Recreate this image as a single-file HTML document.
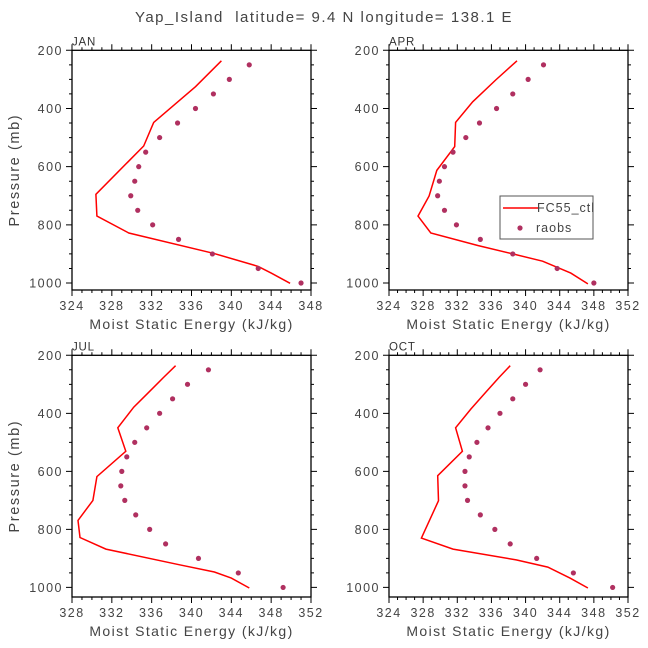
<!DOCTYPE html>
<html><head><meta charset="utf-8">
<style>
body{margin:0;background:#fff;}
svg{display:block;font-family:"Liberation Sans",sans-serif;}
text{white-space:pre;}
</style></head>
<body>
<svg id="chart" width="648" height="648" viewBox="0 0 648 648">
<text x="324" y="22" text-anchor="middle" font-size="15" letter-spacing="1.5" fill="#444">Yap_Island  latitude= 9.4 N longitude= 138.1 E</text>
</svg>
<script>
const obsLevels=[250,300,350,400,450,500,550,600,650,700,750,800,850,900,950,1000];
const janLineP=[236,325,448,529,695,770,828,898,943,966,1001];
const janLineX=[339.0,336.4,332.2,331.2,326.4,326.5,329.7,338.2,342.7,344.0,345.9];
const janObs=[341.8,339.8,338.2,336.4,334.6,332.8,331.4,330.7,330.3,329.9,330.6,332.1,334.7,338.1,342.7,347.0];
const aprLineP=[236,302,377,448,531,613,701,770,828,871,900,925,966,1003];
const aprLineX=[339.0,336.5,333.8,331.8,331.7,329.6,328.7,327.4,328.9,334.4,338.5,342.0,345.3,347.3];
const aprObs=[342.1,340.3,338.5,336.6,334.6,333.0,331.5,330.5,329.9,329.7,330.5,331.9,334.7,338.5,343.7,348.0];
const julLineP=[236,276,331,379,450,531,618,700,769,828,868,922,947,968,1002];
const julLineX=[338.4,337.2,335.6,334.2,332.6,333.4,330.5,330.1,328.6,328.8,331.4,338.8,342.3,344.0,345.8];
const julObs=[341.7,339.6,338.1,336.8,335.5,334.3,333.5,333.0,332.9,333.3,334.4,335.8,337.4,340.7,344.7,349.2];
const octLineP=[236,276,325,385,450,531,615,701,830,868,905,930,968,1002];
const octLineX=[338.2,336.9,335.4,333.6,331.8,332.6,329.7,329.8,327.8,331.5,338.9,342.6,345.2,347.3];
const octObs=[341.7,340.0,338.5,337.0,335.6,334.3,333.4,332.9,332.9,333.2,334.7,336.4,338.2,341.3,345.6,350.2];
const janTicks=[324,328,332,336,340,344,348];
const aprTicks=[324,328,332,336,340,344,348,352];
const julTicks=[328,332,336,340,344,348,352];
const octTicks=[324,328,332,336,340,344,348,352];
const pTicks=[200,400,600,800,1000];

const NS="http://www.w3.org/2000/svg";
const svg=document.getElementById('chart');
function mk(tag,attrs,parent){const e=document.createElementNS(NS,tag);for(const k in attrs)e.setAttribute(k,attrs[k]);(parent||svg).appendChild(e);return e;}

const panels=[
 {name:'jan',label:'JAN',x0:72,x1:311,y0:50.3,y1:290,xmin:324,xmax:348,pmax:1024,ticks:janTicks,lp:janLineP,lx:janLineX,obs:janObs,ylab:true},
 {name:'apr',label:'APR',x0:389,x1:628,y0:50.3,y1:290,xmin:324,xmax:352,pmax:1024,ticks:aprTicks,lp:aprLineP,lx:aprLineX,obs:aprObs,ylab:false,legend:true},
 {name:'jul',label:'JUL',x0:72,x1:311,y0:355.3,y1:597,xmin:328,xmax:352,pmax:1033,ticks:julTicks,lp:julLineP,lx:julLineX,obs:julObs,ylab:true},
 {name:'oct',label:'OCT',x0:389,x1:628,y0:355.3,y1:597,xmin:324,xmax:352,pmax:1033,ticks:octTicks,lp:octLineP,lx:octLineX,obs:octObs,ylab:false}
];
panels.forEach(P=>{
 const g=mk('g',{});
 
 
 const sx=v=>P.x0+(v-P.xmin)/(P.xmax-P.xmin)*(P.x1-P.x0);
 const sy=p=>P.y0+(p-200)/(P.pmax-200)*(P.y1-P.y0);
 const box=mk('rect',{x:P.x0,y:P.y0,width:P.x1-P.x0,height:P.y1-P.y0,fill:'none',stroke:'#000','stroke-width':1.3},g);
 
 
 const lab=mk('text',{x:P.x0,y:P.y0-5,'font-size':11.5,'letter-spacing':0.8,fill:'#333'},g);lab.textContent=P.label;
 
 
 let d='';
 for(let v=P.xmin;v<=P.xmax;v++){const x=sx(v);const L=((v-P.xmin)%4===0)?6:3;d+=`M${x},${P.y1}v${L}M${x},${P.y0}v${-L}`;}
 for(let p=200;p<=P.pmax;p+=50){const y=sy(p);const L=(p%200===0)?6:3;d+=`M${P.x0},${y}h${-L}M${P.x1},${y}h${L}`;}
 mk('path',{d:d,stroke:'#000','stroke-width':1,fill:'none'},g);
 P.ticks.forEach(v=>{const t=mk('text',{x:sx(v),y:P.y1+20,'text-anchor':'middle','font-size':12.5,'letter-spacing':1.5,fill:'#444'},g);t.textContent=v;
  
  });
 pTicks.forEach(p=>{const t=mk('text',{x:P.x0-9,y:sy(p)+4.5,'text-anchor':'end','font-size':12.5,'letter-spacing':1.5,fill:'#444'},g);t.textContent=p;
  
  });
 const xt=mk('text',{x:(P.x0+P.x1)/2,y:P.y1+39,'text-anchor':'middle','font-size':14,'letter-spacing':1.4,fill:'#444'},g);xt.textContent='Moist Static Energy (kJ/kg)';
 
 
 if(P.ylab){const yt=mk('text',{x:0,y:0,'text-anchor':'middle','font-size':14.5,'letter-spacing':1.6,fill:'#444',transform:`translate(19,${(P.y0+P.y1)/2}) rotate(-90)`},g);yt.textContent='Pressure (mb)';
  
  }
 const pts=P.lp.map((p,i)=>sx(P.lx[i]).toFixed(1)+','+sy(p).toFixed(1)).join(' ');
 const ln=mk('polyline',{points:pts,fill:'none',stroke:'#ff0000','stroke-width':1.5},g);
 
 
 P.obs.forEach((v,i)=>{const c=mk('circle',{cx:sx(v),cy:sy(obsLevels[i]),r:2.6,fill:'#b03060'},g);
  
  });
 if(P.legend){
  const lg=mk('g',{},g);
  
  
  mk('rect',{x:500,y:196,width:93,height:43,fill:'#fff',stroke:'#555','stroke-width':1},lg);
  mk('line',{x1:503,y1:208,x2:538,y2:208,stroke:'#ff0000','stroke-width':1.5},lg);
  const t1=mk('text',{x:537,y:212,'font-size':12.5,'letter-spacing':1,fill:'#444'},lg);t1.textContent='FC55_ctl';
  
  
  mk('circle',{cx:520,cy:228,r:2.6,fill:'#b03060'},lg);
  const t2=mk('text',{x:536,y:232,'font-size':12.5,'letter-spacing':1,fill:'#444'},lg);t2.textContent='raobs';
  
  
 }
});
</script>
</body></html>
